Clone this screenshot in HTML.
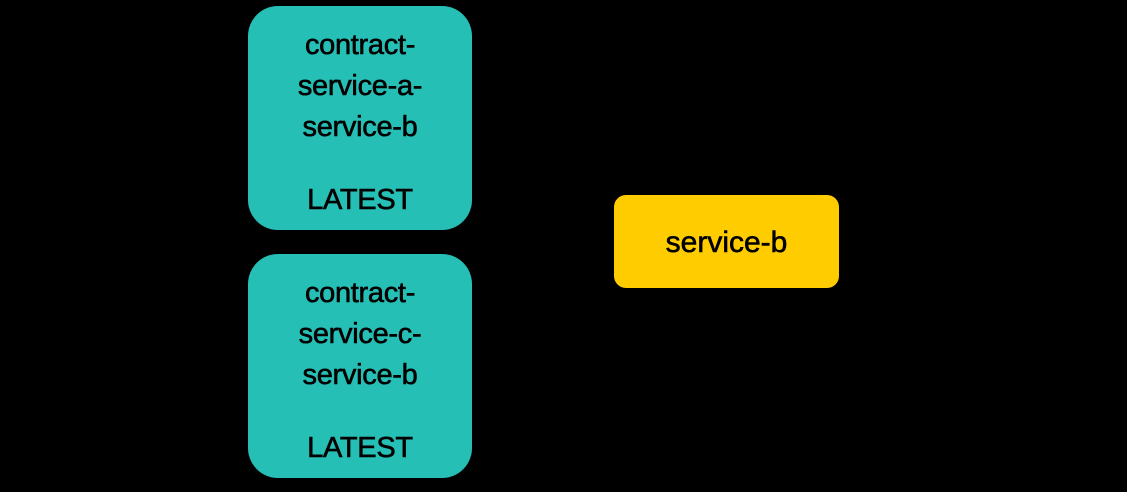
<!DOCTYPE html>
<html><head><style>
body{margin:0;width:1127px;height:492px;background:#000;position:relative;overflow:hidden;font-family:"Liberation Sans",sans-serif;color:#000}
.b{position:absolute;left:248px;width:224px;height:224px;background:#26bfb5;border-radius:30px}
.t{position:absolute;left:0;width:100%;text-align:center;font-size:29px;line-height:32px;letter-spacing:-0.3px;-webkit-text-stroke:0.6px #000}
.y{position:absolute;left:614px;top:195px;width:225px;height:93px;background:#ffcc00;border-radius:12px;text-align:center;line-height:96px;font-size:30px;-webkit-text-stroke:0.6px #000}
</style></head><body>
<div class="b" style="top:6px">
<div class="t" style="top:23px">contract-</div>
<div class="t" style="top:64px">service-a-</div>
<div class="t" style="top:105px">service-b</div>
<div class="t" style="top:178px">LATEST</div>
</div>
<div class="b" style="top:254px">
<div class="t" style="top:23px">contract-</div>
<div class="t" style="top:64px">service-c-</div>
<div class="t" style="top:105px">service-b</div>
<div class="t" style="top:178px">LATEST</div>
</div>
<div class="y">service-b</div>
</body></html>
